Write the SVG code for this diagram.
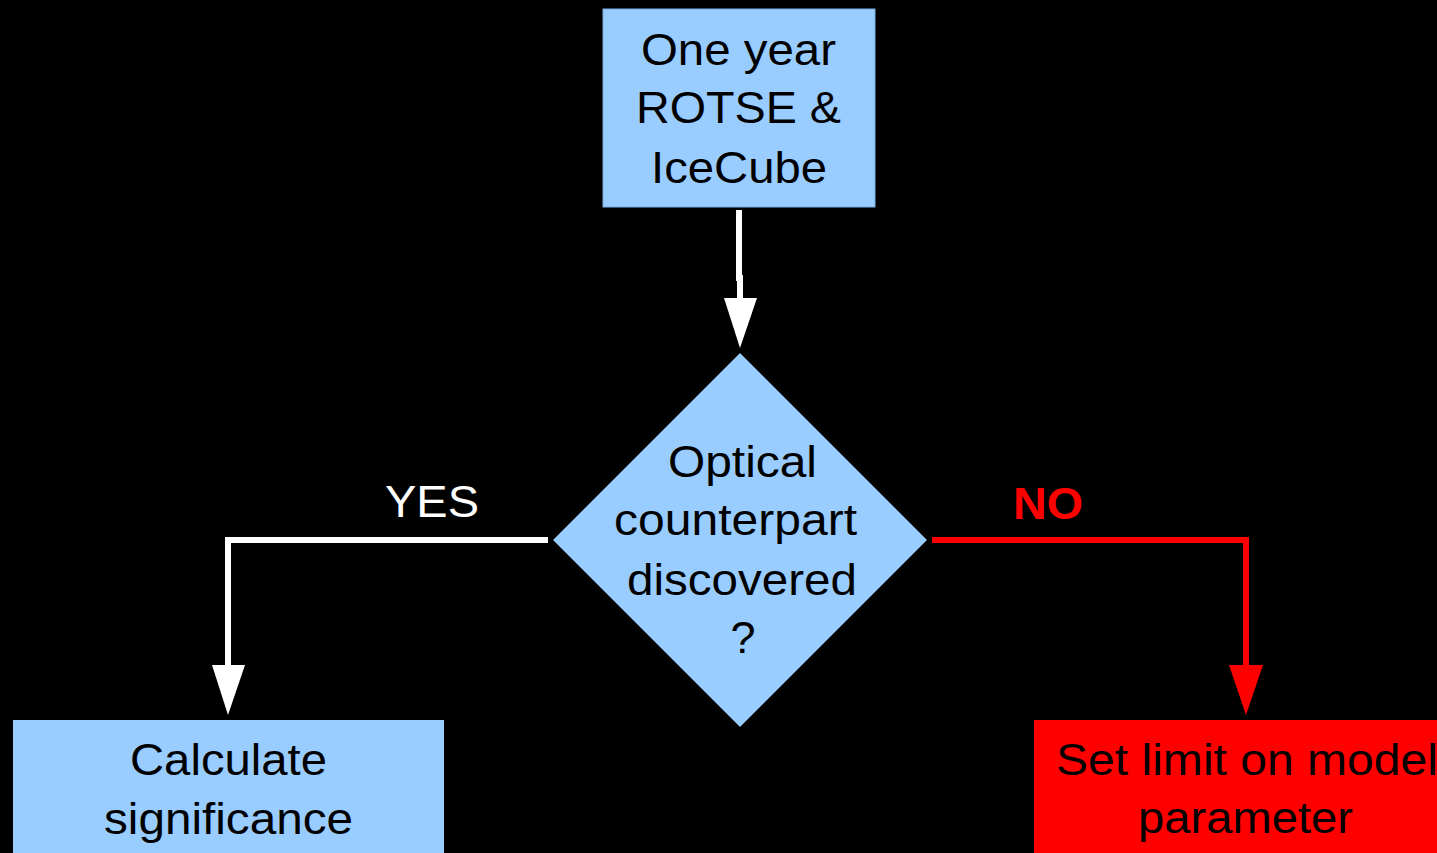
<svg xmlns="http://www.w3.org/2000/svg" width="1437" height="853" viewBox="0 0 1437 853">
<defs>
<style>
.t{font-family:"Liberation Sans",Arial,sans-serif;font-size:45px;fill:#000;text-anchor:middle}
.blue{fill:#99ccff;stroke:#7aaee0;stroke-width:1}
.w{stroke:#fff;stroke-width:6;fill:none}
.r{stroke:#ff0000;stroke-width:6;fill:none}
</style>
</defs>
<rect width="1437" height="853" fill="#000"/>
<g id="connectors">
<polyline class="w" points="739,210 739,278 740,278 740,300"/>
<polygon points="724,298 757,298 740,348" fill="#fff"/>
<polyline class="w" points="548,540 228,540 228,667"/>
<polygon points="212,665 245,665 228,715" fill="#fff"/>
<polyline class="r" points="932,540 1246,540 1246,667"/>
<polygon points="1229,665 1263,665 1246,715" fill="#ff0000"/>
<text x="432" y="517" class="t" style="fill:#fff" textLength="94" lengthAdjust="spacingAndGlyphs">YES</text>
<text x="1048" y="519" class="t" style="fill:#ff0000;font-weight:bold" textLength="70" lengthAdjust="spacingAndGlyphs">NO</text>
</g>
<g id="start">
<rect class="blue" x="603" y="9" width="272" height="198"/>
<text class="t" x="738.5" y="65" textLength="195" lengthAdjust="spacingAndGlyphs">One year</text>
<text class="t" x="738.5" y="123" textLength="205" lengthAdjust="spacingAndGlyphs">ROTSE &amp;</text>
<text class="t" x="739" y="183" textLength="176" lengthAdjust="spacingAndGlyphs">IceCube</text>
</g>
<g id="decision">
<polygon class="blue" points="740,353 927,540 740,727 553,540" style="stroke:none"/>
<text class="t" x="742.5" y="477" textLength="149" lengthAdjust="spacingAndGlyphs">Optical</text>
<text class="t" x="735.5" y="535" textLength="243" lengthAdjust="spacingAndGlyphs">counterpart</text>
<text class="t" x="742" y="595" textLength="230" lengthAdjust="spacingAndGlyphs">discovered</text>
<text class="t" x="743" y="653">?</text>
</g>
<g id="yes-box">
<rect class="blue" x="13" y="720" width="431" height="140" style="stroke:none"/>
<text class="t" x="228.5" y="775" textLength="197" lengthAdjust="spacingAndGlyphs">Calculate</text>
<text class="t" x="228.5" y="834" textLength="249" lengthAdjust="spacingAndGlyphs">significance</text>
</g>
<g id="no-box">
<rect x="1034" y="720" width="420" height="140" fill="#ff0000"/>
<text class="t" x="1247" y="775" textLength="382" lengthAdjust="spacingAndGlyphs">Set limit on model</text>
<text class="t" x="1245.5" y="833" textLength="215" lengthAdjust="spacingAndGlyphs">parameter</text>
</g>
</svg>
